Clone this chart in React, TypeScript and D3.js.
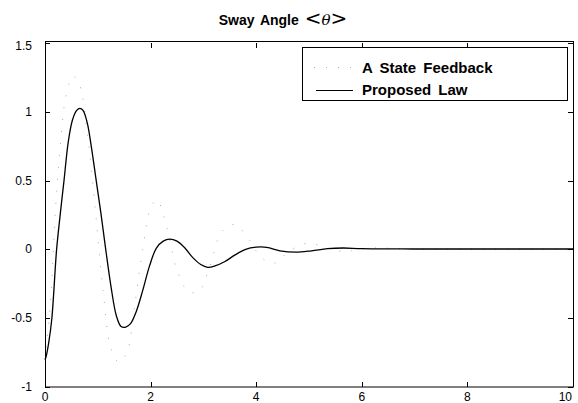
import { useEffect, useRef } from "react";
import * as d3 from "d3";

// Proposed Law (solid)
const timeProposed = [0, 0.02, 0.07, 0.13, 0.22, 0.29, 0.36, 0.44, 0.52, 0.6, 0.66, 0.72, 0.8, 0.88, 0.97, 1.06, 1.15, 1.25, 1.35, 1.44, 1.53, 1.62, 1.72, 1.85, 1.98, 2.11, 2.24, 2.36, 2.5, 2.65, 2.8, 2.95, 3.08, 3.22, 3.4, 3.6, 3.8, 4.0, 4.2, 4.45, 4.75, 5.05, 5.35, 5.65, 6.0, 7, 8, 9, 10];
const valuesProposed = [-0.8, -0.78, -0.68, -0.5, 0.0, 0.26, 0.5, 0.78, 0.94, 1.01, 1.025, 1.01, 0.92, 0.74, 0.5, 0.26, 0.0, -0.27, -0.48, -0.56, -0.565, -0.54, -0.46, -0.3, -0.12, 0.01, 0.06, 0.075, 0.06, 0.01, -0.06, -0.11, -0.13, -0.12, -0.09, -0.04, 0.0, 0.016, 0.015, -0.01, -0.02, -0.01, 0.005, 0.01, 0.005, 0.003, 0.003, 0.003, 0.003];

// A State Feedback (dotted)
const timeState = [0, 0.1, 0.2, 0.3, 0.4, 0.53, 0.65, 0.8, 0.95, 1.1, 1.25, 1.4, 1.55, 1.7, 1.85, 2.0, 2.12, 2.3, 2.5, 2.7, 2.9, 3.1, 3.35, 3.6, 3.85, 4.1, 4.35, 4.6, 4.9, 5.2, 5.5, 5.8, 6.2, 7, 8, 9, 10];
const valuesState = [-0.8, -0.4, 0.3, 0.8, 1.12, 1.26, 1.2, 0.85, 0.3, -0.3, -0.72, -0.82, -0.75, -0.4, 0.0, 0.3, 0.36, 0.17, -0.15, -0.3, -0.31, -0.15, 0.13, 0.18, 0.08, -0.06, -0.1, -0.02, 0.04, 0.03, -0.01, -0.01, 0.01, 0.0, 0.0, 0.0, 0.0];

const xTicks = [0, 2, 4, 6, 8, 10];
const yTicks = [-1, -0.5, 0, 0.5, 1, 1.5];
const legendLabels = ["A State Feedback", "Proposed Law"];

function App() {
  const ref = useRef(null);

  useEffect(() => {
    const svg = d3.select(ref.current);
    svg.selectAll("*").remove();

    const left = 45, right = 573, top = 43, bottom = 387;
    const font = "Liberation Sans, Arial, sans-serif";

    const x = d3.scaleLinear().domain([0, 10]).range([left, right]);
    const y = d3.scaleLinear().domain([-1, 1.5]).range([bottom, top]);

    svg.append("rect").attr("width", 578).attr("height", 403).attr("fill", "#fff");

    // Title
    const title = svg
      .append("text")
      .attr("x", 283)
      .attr("y", 25)
      .attr("text-anchor", "middle")
      .attr("font-family", font)
      .attr("font-size", 14)
      .attr("font-weight", "bold")
      .attr("word-spacing", 2);
    title.append("tspan").text("Sway Angle ");
    title
      .append("tspan")
      .attr("font-family", "DejaVu Sans, sans-serif")
      .attr("font-weight", "normal")
      .attr("font-size", 20)
      .text("<");
    title
      .append("tspan")
      .attr("font-family", "DejaVu Serif, serif")
      .attr("font-style", "italic")
      .attr("font-weight", "normal")
      .attr("font-size", 15)
      .text("θ");
    title
      .append("tspan")
      .attr("font-family", "DejaVu Sans, sans-serif")
      .attr("font-weight", "normal")
      .attr("font-size", 20)
      .text(">");

    const tickLen = 5;
    const ticks = svg.append("g").attr("stroke", "#000").attr("stroke-width", 1);
    xTicks.forEach((t) => {
      const px = Math.round(x(t)) + 0.5;
      ticks.append("line").attr("x1", px).attr("x2", px).attr("y1", bottom).attr("y2", bottom - tickLen);
      ticks.append("line").attr("x1", px).attr("x2", px).attr("y1", top).attr("y2", top + tickLen);
    });
    yTicks.forEach((t) => {
      const py = Math.round(y(t)) + 0.5;
      ticks.append("line").attr("x1", left).attr("x2", left + tickLen).attr("y1", py).attr("y2", py);
      ticks.append("line").attr("x1", right).attr("x2", right - tickLen).attr("y1", py).attr("y2", py);
    });

    // Tick labels
    svg
      .append("g")
      .selectAll("text")
      .data(xTicks)
      .enter()
      .append("text")
      .attr("x", (d) => (d === 10 ? x(d) - 1 : x(d)))
      .attr("y", bottom + 14)
      .attr("text-anchor", (d) => (d === 10 ? "end" : "middle"))
      .attr("font-family", font)
      .attr("font-size", 12)
      .text((d) => d);

    svg
      .append("g")
      .selectAll("text")
      .data(yTicks)
      .enter()
      .append("text")
      .attr("x", left - 13)
      .attr("y", (d) => y(d) + 4 + (d === 1.5 ? 3 : 0))
      .attr("text-anchor", "end")
      .attr("font-family", font)
      .attr("font-size", 12)
      .text((d) => d);

    // Lines
    const stateData = timeState.map((t, i) => [t, valuesState[i]]);
    const propData = timeProposed.map((t, i) => [t, valuesProposed[i]]);
    const line = d3
      .line()
      .x((d) => x(d[0]))
      .y((d) => y(d[1]))
      .curve(d3.curveCatmullRom.alpha(0.5));

    svg
      .append("path")
      .datum(stateData)
      .attr("d", line)
      .attr("fill", "none")
      .attr("stroke", "#aaa")
      .attr("stroke-width", 1)
      .attr("stroke-dasharray", "1 11");

    svg
      .append("path")
      .datum(propData)
      .attr("d", line)
      .attr("fill", "none")
      .attr("stroke", "#000")
      .attr("stroke-width", 1.3);

    // Frame
    svg
      .append("rect")
      .attr("x", left + 0.5)
      .attr("y", top - 1.5)
      .attr("width", right - left)
      .attr("height", bottom - top + 1.5)
      .attr("fill", "none")
      .attr("stroke", "#000")
      .attr("stroke-width", 1);

    // Legend
    const lg = svg.append("g");
    lg.append("rect")
      .attr("x", 302.5)
      .attr("y", 47.5)
      .attr("width", 265)
      .attr("height", 53)
      .attr("fill", "#fff")
      .attr("stroke", "#000")
      .attr("stroke-width", 1);
    lg.append("line")
      .attr("x1", 314)
      .attr("x2", 353)
      .attr("y1", 67.5)
      .attr("y2", 67.5)
      .attr("stroke", "#aaa")
      .attr("stroke-dasharray", "1 11");
    lg.append("line")
      .attr("x1", 316)
      .attr("x2", 353)
      .attr("y1", 90.5)
      .attr("y2", 90.5)
      .attr("stroke", "#000")
      .attr("stroke-width", 1.2);
    lg.selectAll("text")
      .data(legendLabels)
      .enter()
      .append("text")
      .attr("x", 362)
      .attr("y", (d, i) => 73 + i * 22)
      .attr("font-family", font)
      .attr("font-size", 15)
      .attr("font-weight", "bold")
      .attr("word-spacing", 3)
      .text((d) => d);
  }, []);

  return (
    <svg
      ref={ref}
      width={578}
      height={403}
      style={{ position: "absolute", left: 0, top: 0 }}
    />
  );
}

export default App;
